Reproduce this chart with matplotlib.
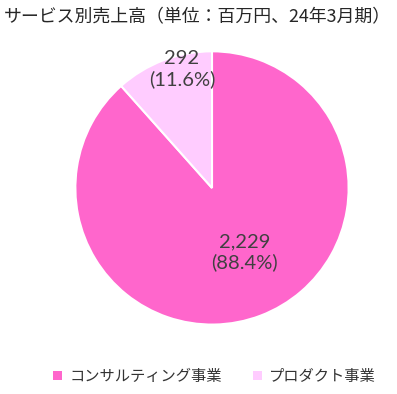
import matplotlib.pyplot as plt
from matplotlib.patches import Patch

plt.rcParams['font.family'] = ['Noto Sans CJK JP', 'DejaVu Sans']

""" data """

title = "サービス別売上高（単位：百万円、24年3月期）"
categories = ["コンサルティング事業", "プロダクト事業"]
values = [2229, 292]
colors = ["#FF66CC", "#FFCCFF"]

# where the data labels sit, in pie radius units
label_xy = [(0.24, -0.47), (-0.22, 0.87)]

""" plot """

fig = plt.figure(figsize=(3.97, 3.94), dpi=100)
ax = fig.add_axes([0.534 - 0.3476, 0.523 - 0.3503, 0.6952, 0.7006])

wedges, _ = ax.pie(values, colors=colors, startangle=90, counterclock=False,
                   wedgeprops=dict(edgecolor="white", linewidth=1.5))
ax.set_aspect("equal")
ax.set_xlim(-1.01, 1.01)
ax.set_ylim(-1.01, 1.01)

total = sum(values)
for (x, y), v in zip(label_xy, values):
    ax.text(x, y, f"{v:,}\n({v / total * 100:.1f}%)",
            ha="center", va="center", fontsize=14.5, color="#404040",
            family=["Lato", "DejaVu Sans"], linespacing=1.2)

fig.text(0.01, 0.955, title, fontsize=12.9, color="#262626", va="center")

handles = [Patch(facecolor=c, edgecolor="none") for c in colors]
fig.legend(handles, categories, loc="center", bbox_to_anchor=(0.54, 0.045),
           ncol=2, frameon=False, fontsize=11, handlelength=0.6, handleheight=0.6,
           columnspacing=2.0, handletextpad=0.5, labelcolor="#333333")

fig.savefig("out.png", dpi=100)
